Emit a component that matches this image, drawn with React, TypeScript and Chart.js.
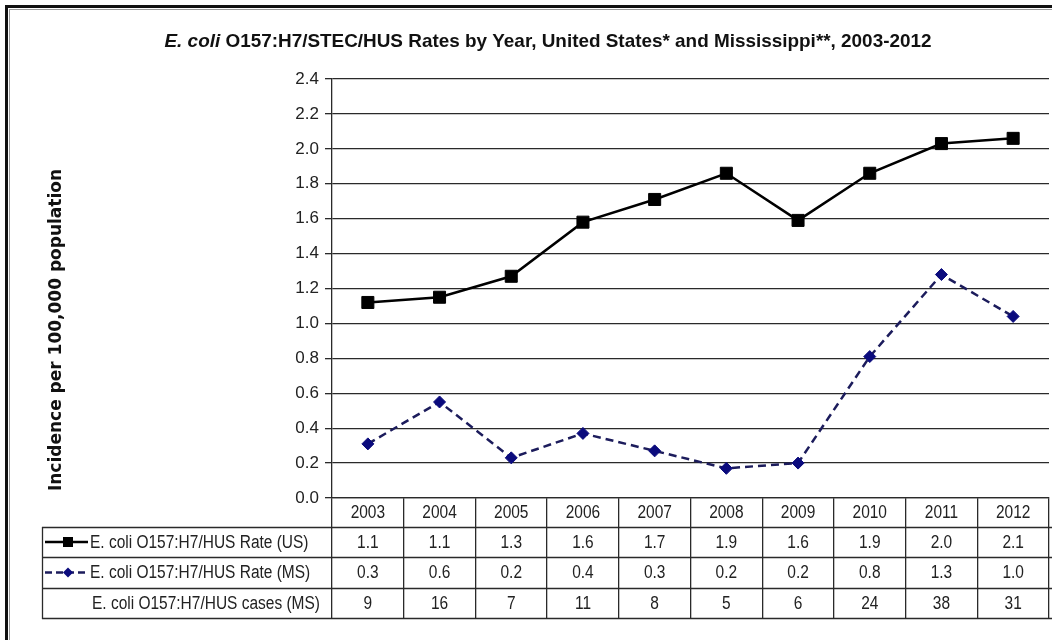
import React, { useEffect, useRef } from 'react';
import { Chart, registerables } from 'chart.js';

Chart.register(...registerables);

const years = ['2003', '2004', '2005', '2006', '2007', '2008', '2009', '2010', '2011', '2012'];
const usRate = [1.12, 1.15, 1.27, 1.58, 1.71, 1.86, 1.59, 1.86, 2.03, 2.06];
const msRate = [0.31, 0.55, 0.23, 0.37, 0.27, 0.17, 0.2, 0.81, 1.28, 1.04];
const usRateTable = ['1.1', '1.1', '1.3', '1.6', '1.7', '1.9', '1.6', '1.9', '2.0', '2.1'];
const msRateTable = ['0.3', '0.6', '0.2', '0.4', '0.3', '0.2', '0.2', '0.8', '1.3', '1.0'];
const msCases = ['9', '16', '7', '11', '8', '5', '6', '24', '38', '31'];
const rowNames = [
  'E. coli O157:H7/HUS Rate (US)',
  'E. coli O157:H7/HUS Rate (MS)',
  'E. coli O157:H7/HUS cases (MS)',
];
const titleItalic = 'E. coli';
const titleRest = ' O157:H7/STEC/HUS Rates by Year, United States* and Mississippi**, 2003-2012';
const yTitle = 'Incidence per 100,000 population';

const SANS = '"Liberation Sans", Arial, sans-serif';
const LINE = '#2a2a2a';
const TEXT = '#222';
const US_COLOR = '#000000';
const MS_LINE = '#1c1c5c';
const MS_POINT = '#0b0b7d';
const SQUEEZE = 0.86;

function narrowText(ctx: any, text: string, x: number, y: number, align: 'left' | 'center') {
  ctx.save();
  ctx.translate(x, y);
  ctx.scale(SQUEEZE, 1);
  ctx.textAlign = align;
  ctx.fillText(text, 0, 0);
  ctx.restore();
}

const framePlugin = {
  id: 'frame',
  beforeDraw(chart: any) {
    const { ctx, width, height } = chart;
    ctx.save();
    ctx.fillStyle = '#ffffff';
    ctx.fillRect(0, 0, width, height);
    ctx.fillStyle = '#111';
    ctx.fillRect(5, 5, 3, height - 5);
    ctx.fillRect(5, 5, width - 5, 3);
    ctx.fillStyle = '#9a9a9a';
    ctx.fillRect(9, 9, 1, height - 9);
    ctx.fillRect(9, 9, width - 9, 1);
    ctx.restore();
  },
};

const textPlugin = {
  id: 'texts',
  afterDraw(chart: any) {
    const { ctx } = chart;
    ctx.save();
    // Title
    const fItalic = `italic bold 19px ${SANS}`;
    const fBold = `bold 19px ${SANS}`;
    ctx.font = fItalic;
    const w1 = ctx.measureText(titleItalic).width;
    ctx.font = fBold;
    const w2 = ctx.measureText(titleRest).width;
    const targetW = 767;
    const k = targetW / (w1 + w2);
    ctx.save();
    ctx.translate(548 - targetW / 2, 42);
    ctx.scale(k, 1);
    ctx.fillStyle = '#111';
    ctx.textBaseline = 'middle';
    ctx.textAlign = 'left';
    ctx.font = fItalic;
    ctx.fillText(titleItalic, 0, 0);
    ctx.font = fBold;
    ctx.fillText(titleRest, w1, 0);
    ctx.restore();

    // Y title
    ctx.save();
    ctx.translate(57, 330);
    ctx.rotate(-Math.PI / 2);
    ctx.font = 'bold 17px "DejaVu Sans", sans-serif';
    ctx.textAlign = 'center';
    ctx.textBaseline = 'middle';
    ctx.fillStyle = '#111';
    ctx.fillText(yTitle, 0, 0);
    ctx.restore();
    ctx.restore();
  },
};

const tablePlugin = {
  id: 'dataTable',
  afterDraw(chart: any) {
    const { ctx, chartArea, width } = chart;
    const xs = chart.scales.x;
    const top = chartArea.bottom;
    const rowY = [top + 29, top + 59, top + 90, top + 120];
    const left = 42;
    ctx.save();
    ctx.strokeStyle = LINE;
    ctx.lineWidth = 1.3;
    ctx.beginPath();
    rowY.forEach((y) => {
      ctx.moveTo(left, y + 0.5);
      ctx.lineTo(width, y + 0.5);
    });
    ctx.moveTo(left + 0.5, rowY[0]);
    ctx.lineTo(left + 0.5, rowY[3] + 1);
    ctx.stroke();

    ctx.font = `18px ${SANS}`;
    ctx.fillStyle = TEXT;
    ctx.textBaseline = 'middle';
    const rows = [years, usRateTable, msRateTable, msCases];
    const centers = [
      (top + rowY[0]) / 2,
      (rowY[0] + rowY[1]) / 2,
      (rowY[1] + rowY[2]) / 2,
      (rowY[2] + rowY[3]) / 2,
    ];
    rows.forEach((row, r) => {
      row.forEach((v, i) => {
        narrowText(ctx, v, xs.getPixelForValue(i), centers[r] + 1, 'center');
      });
    });

    // legend labels
    narrowText(ctx, rowNames[0], 90, centers[1] + 1, 'left');
    narrowText(ctx, rowNames[1], 90, centers[2] + 1, 'left');
    narrowText(ctx, rowNames[2], 92, centers[3] + 1, 'left');

    // legend markers
    ctx.strokeStyle = US_COLOR;
    ctx.lineWidth = 2.5;
    ctx.beginPath();
    ctx.moveTo(45, centers[1]);
    ctx.lineTo(88, centers[1]);
    ctx.stroke();
    ctx.fillStyle = US_COLOR;
    ctx.fillRect(63, centers[1] - 5, 10, 10);

    ctx.strokeStyle = MS_LINE;
    ctx.setLineDash([7, 4]);
    ctx.beginPath();
    ctx.moveTo(45, centers[2]);
    ctx.lineTo(88, centers[2]);
    ctx.stroke();
    ctx.setLineDash([]);
    ctx.fillStyle = MS_POINT;
    ctx.beginPath();
    ctx.moveTo(68, centers[2] - 5);
    ctx.lineTo(73, centers[2]);
    ctx.lineTo(68, centers[2] + 5);
    ctx.lineTo(63, centers[2]);
    ctx.closePath();
    ctx.fill();
    ctx.restore();
  },
};

export default function App() {
  const ref = useRef<HTMLCanvasElement>(null);
  useEffect(() => {
    if (!ref.current) return;
    const chart = new Chart(ref.current, {
      type: 'line',
      data: {
        labels: years,
        datasets: [
          {
            label: rowNames[0],
            data: usRate,
            borderColor: US_COLOR,
            backgroundColor: US_COLOR,
            borderWidth: 2.5,
            pointStyle: 'rect',
            pointRadius: 8.5,
            pointBackgroundColor: US_COLOR,
            pointBorderColor: US_COLOR,
            pointBorderWidth: 1,
            tension: 0,
          },
          {
            label: rowNames[1],
            data: msRate,
            borderColor: MS_LINE,
            backgroundColor: MS_POINT,
            borderWidth: 2.5,
            borderDash: [8, 5],
            pointStyle: 'rectRot',
            pointRadius: 6,
            pointBackgroundColor: MS_POINT,
            pointBorderColor: MS_POINT,
            pointBorderWidth: 1,
            tension: 0,
          },
        ],
      },
      options: {
        responsive: false,
        animation: false,
        layout: { autoPadding: false, padding: { left: 0, top: 79, right: 3, bottom: 22 } },
        plugins: {
          legend: { display: false },
          tooltip: { enabled: false },
          title: { display: false },
        },
        scales: {
          x: {
            type: 'category',
            offset: true,
            grid: {
              offset: true,
              drawOnChartArea: true,
              color: (c: any) => (c.index === years.length ? LINE : 'rgba(0,0,0,0)'),
              tickColor: LINE,
              tickLength: 120,
              lineWidth: 1.3,
            },
            border: { display: true, color: LINE, width: 1.3 },
            ticks: { display: false },
            afterFit: (s: any) => {
              s.height = 120;
            },
          },
          y: {
            min: 0,
            max: 2.4,
            ticks: {
              stepSize: 0.2,
              callback: (v: any) => Number(v).toFixed(1),
              font: { family: SANS, size: 17 },
              color: TEXT,
              padding: 6,
            },
            grid: { color: LINE, lineWidth: 1.3, tickLength: 7, tickColor: LINE },
            border: { display: true, color: LINE, width: 1.3 },
            afterFit: (s: any) => {
              s.width = 332;
            },
          },
        },
      },
      plugins: [framePlugin, textPlugin, tablePlugin],
    });
    return () => chart.destroy();
  }, []);
  return (
    <div style={{ position: 'fixed', left: 0, top: 0, width: 1052, height: 640, background: '#fff' }}>
      <canvas ref={ref} width={1052} height={640} style={{ display: 'block' }} />
    </div>
  );
}
